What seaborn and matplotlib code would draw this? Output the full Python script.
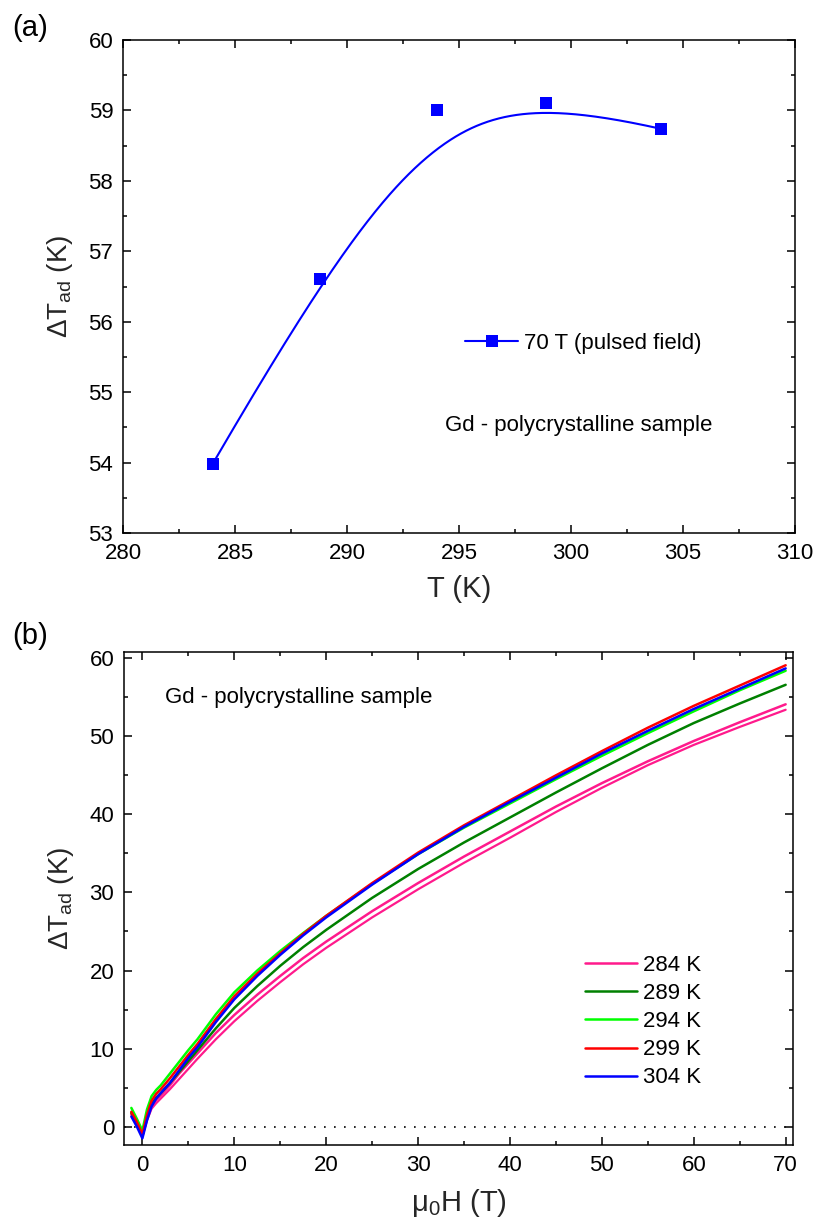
import numpy as np
import pandas as pd
import matplotlib
matplotlib.use("Agg")
import matplotlib.pyplot as plt
import seaborn as sns
from matplotlib.lines import Line2D
from matplotlib.ticker import MultipleLocator

# ---------------- data: panel (a) ----------------
temps_a = [284.0, 288.8, 294.0, 298.9, 304.0]
dtad_a = [53.98, 56.60, 59.00, 59.10, 58.74]
legend_a = "70 T (pulsed field)"
sample_text = "Gd - polycrystalline sample"

# ---------------- data: panel (b) ----------------
field = [-1.2, -0.6, 0.0, 0.5, 1.0, 1.5, 2.0, 3.0, 4.0, 5.0, 6.0, 8.0, 10.0,
         12.5, 15.0, 17.5, 20.0, 25.0, 30.0, 35.0, 40.0, 45.0, 50.0, 55.0,
         60.0, 65.0, 70.0]
t284_up = [1.6, 0.4, -1.2, 1.0, 2.6, 3.4, 4.0, 5.3, 6.8, 8.1, 9.4, 12.0, 14.3,
           16.9, 19.3, 21.6, 23.7, 27.6, 31.2, 34.6, 37.8, 41.0, 44.0, 46.8,
           49.4, 51.8, 54.1]
t284_down = [1.6, 0.4, -1.2, 0.8, 2.3, 3.0, 3.6, 4.8, 6.1, 7.4, 8.7, 11.2, 13.5,
             16.1, 18.5, 20.8, 22.9, 26.8, 30.4, 33.8, 37.0, 40.3, 43.4, 46.3,
             48.9, 51.2, 53.4]
t289 = [1.8, 0.5, -1.2, 1.2, 2.9, 3.7, 4.3, 5.6, 7.0, 8.4, 9.8, 12.6, 15.2,
        18.0, 20.6, 23.0, 25.2, 29.3, 33.0, 36.4, 39.6, 42.8, 45.9, 48.9,
        51.7, 54.2, 56.6]
t294 = [2.4, 1.0, -0.5, 2.2, 3.9, 4.7, 5.3, 6.8, 8.3, 9.8, 11.2, 14.4, 17.2,
        20.0, 22.5, 24.8, 27.0, 31.1, 34.9, 38.3, 41.4, 44.5, 47.5, 50.4,
        53.2, 55.9, 58.4]
t299 = [1.9, 0.6, -1.0, 1.5, 3.3, 4.2, 4.8, 6.2, 7.7, 9.2, 10.6, 13.8, 16.7,
        19.6, 22.2, 24.7, 27.0, 31.2, 35.1, 38.6, 41.8, 45.0, 48.1, 51.1,
        53.9, 56.5, 59.1]
t304 = [1.3, 0.0, -1.5, 0.8, 2.6, 3.6, 4.3, 5.6, 7.2, 8.8, 10.2, 13.4, 16.3,
        19.3, 22.0, 24.5, 26.8, 31.0, 34.9, 38.4, 41.6, 44.7, 47.8, 50.7,
        53.5, 56.1, 58.7]
series_labels = ["284 K", "289 K", "294 K", "299 K", "304 K"]
series_colors = ["#FF1A8C", "#008000", "#00FF00", "#FF0000", "#0000FF"]

# ---------------- style ----------------
sns.set_style("ticks")
plt.rcParams["font.family"] = ["Liberation Sans", "DejaVu Sans"]
plt.rcParams["mathtext.fontset"] = "custom"
plt.rcParams["mathtext.rm"] = "Liberation Sans"
plt.rcParams["mathtext.it"] = "Liberation Sans"
plt.rcParams["axes.linewidth"] = 1.1
plt.rcParams["text.color"] = "black"

W, H = 817, 1227
fig = plt.figure(figsize=(W / 100, H / 100), dpi=100)


def px_axes(l, r, t, b):
    return fig.add_axes([l / W, 1 - b / H, (r - l) / W, (b - t) / H])


ax1 = px_axes(123, 795, 40, 533)
ax2 = px_axes(124, 793, 652, 1145)


def style_axis(ax):
    ax.tick_params(which="both", direction="in", top=True, right=True,
                   width=1.1, labelsize=16, colors="black", pad=7)
    ax.tick_params(which="major", length=6)
    ax.tick_params(which="minor", length=3)
    for s in ax.spines.values():
        s.set_color("black")
        s.set_linewidth(1.1)
        s.set_visible(True)


def clamped_bspline(px, py, n=400, k=3):
    px = np.asarray(px, float)
    py = np.asarray(py, float)
    m = len(px)
    inner = np.linspace(0, 1, m - k + 1)[1:-1]
    knots = np.concatenate([np.zeros(k + 1), inner, np.ones(k + 1)])
    t = np.linspace(0, 1, n)
    t[-1] = 1 - 1e-9
    N = np.zeros((n, len(knots) - 1))
    for i in range(len(knots) - 1):
        N[:, i] = (knots[i] <= t) & (t < knots[i + 1])
    for d in range(1, k + 1):
        Nn = np.zeros((n, len(knots) - 1 - d))
        for i in range(len(knots) - 1 - d):
            a = knots[i + d] - knots[i]
            b = knots[i + d + 1] - knots[i + 1]
            term = np.zeros(n)
            if a > 0:
                term += (t - knots[i]) / a * N[:, i]
            if b > 0:
                term += (knots[i + d + 1] - t) / b * N[:, i + 1]
            Nn[:, i] = term
        N = Nn
    return N @ px, N @ py


# ---------------- panel (a) ----------------
sx, sy = clamped_bspline(temps_a, dtad_a)
sns.lineplot(x=sx, y=sy, ax=ax1, color="#0000FF", lw=1.5, sort=False,
             estimator=None, legend=False)
sns.scatterplot(x=temps_a, y=dtad_a, ax=ax1, marker="s", s=64,
                color="#0000FF", linewidth=0, legend=False, zorder=3)
ax1.set_xlim(280, 310)
ax1.set_ylim(53, 60)
ax1.xaxis.set_major_locator(MultipleLocator(5))
ax1.xaxis.set_minor_locator(MultipleLocator(2.5))
ax1.yaxis.set_major_locator(MultipleLocator(1))
ax1.yaxis.set_minor_locator(MultipleLocator(0.5))
style_axis(ax1)
ax1.set_xlabel("T (K)", fontsize=21, labelpad=8)
ax1.set_ylabel(r"ΔT$_\mathregular{ad}$ (K)", fontsize=20, labelpad=10)

h_a = Line2D([0], [0], color="#0000FF", lw=1.5, marker="s", markersize=8,
             markeredgewidth=0)
fig.legend([h_a], [legend_a], loc="center left",
           bbox_to_anchor=(465 / W, 1 - 343 / H), frameon=False, fontsize=16,
           handlelength=2.4, handletextpad=0.25, borderpad=0,
           borderaxespad=0, numpoints=1)
fig.text(445 / W, 1 - 425 / H, sample_text, fontsize=16, ha="left",
         va="center")

# ---------------- panel (b) ----------------
all_series = [t284_up, t289, t294, t299, t304]
sns.lineplot(x=field, y=t284_down, ax=ax2, color=series_colors[0], lw=1.6,
             sort=False, estimator=None, legend=False)
handles = []
for vals, lab, col in zip(all_series, series_labels, series_colors):
    sns.lineplot(x=field, y=vals, ax=ax2, color=col, lw=1.8, sort=False,
                 estimator=None, legend=False)
    handles.append(Line2D([0], [0], color=col, lw=1.8))
ax2.axhline(0, color="black", lw=1.2, ls=(0, (1, 5)), zorder=0)
ax2.set_xlim(-2.0, 70.8)
ax2.set_ylim(-2.35, 60.8)
ax2.xaxis.set_major_locator(MultipleLocator(10))
ax2.xaxis.set_minor_locator(MultipleLocator(5))
ax2.yaxis.set_major_locator(MultipleLocator(10))
ax2.yaxis.set_minor_locator(MultipleLocator(5))
style_axis(ax2)
ax2.set_xlabel(r"μ$_\mathregular{0}$H (T)", fontsize=21, labelpad=8)
ax2.set_ylabel(r"ΔT$_\mathregular{ad}$ (K)", fontsize=20, labelpad=10)
fig.text(165 / W, 1 - 698 / H, sample_text, fontsize=16, ha="left",
         va="center")
fig.legend(handles, series_labels, loc="upper left",
           bbox_to_anchor=(585 / W, 1 - 955 / H), frameon=False, fontsize=16,
           handlelength=2.35, handletextpad=0.25, labelspacing=0.32,
           borderpad=0, borderaxespad=0)

fig.text(12 / W, 1 - 28 / H, "(a)", fontsize=21, ha="left", va="center")
fig.text(12 / W, 1 - 636 / H, "(b)", fontsize=21, ha="left", va="center")

fig.savefig("out.png", dpi=100)
